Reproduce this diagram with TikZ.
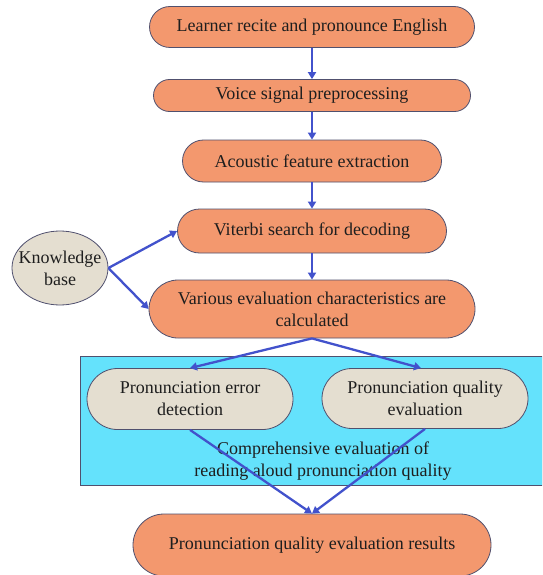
\documentclass[tikz,border=0pt]{standalone}
\usepackage{fontspec}
\setmainfont{Liberation Serif}
\usetikzlibrary{arrows.meta,shapes.geometric}
\definecolor{orfill}{RGB}{243,152,110}
\definecolor{bgfill}{RGB}{228,222,208}
\definecolor{cyfill}{RGB}{100,226,252}
\definecolor{arcol}{RGB}{66,82,204}
\definecolor{bord}{RGB}{80,80,110}
\definecolor{txt}{RGB}{30,30,30}
\tikzset{
  box/.style={draw=bord, line width=0.8pt, fill=orfill, text=txt, align=center, font=\fontsize{18}{22}\selectfont, inner sep=0pt},
  bbox/.style={draw=bord, line width=0.8pt, fill=bgfill, text=txt, align=center, font=\fontsize{18}{22}\selectfont, inner sep=0pt},
  arr/.style={draw=arcol, line width=2.3pt, -{Triangle[length=7pt,width=8pt]}},
}
\begin{document}
\begin{tikzpicture}[x=1pt,y=-1pt]
\useasboundingbox (0,0) rectangle (542,575);
\fill[white] (0,0) rectangle (542,575);
\begin{scope}
\clip (0,0) rectangle (542,575);
\node[draw=bord, line width=0.8pt, fill=cyfill, minimum width=462pt, minimum height=129pt, inner sep=0pt] (grp) at (311,420.5) {};
\node[box, minimum width=325pt, minimum height=41pt, rounded corners=20.5pt] (n1) at (312,27) {Learner recite and pronounce English};
\node[box, minimum width=317pt, minimum height=32pt, rounded corners=16pt] (n2) at (312,95.5) {Voice signal preprocessing};
\node[box, minimum width=259pt, minimum height=42pt, rounded corners=21pt] (n3) at (312,161) {Acoustic feature extraction};
\node[box, minimum width=269pt, minimum height=44pt, rounded corners=22pt] (n4) at (312,231) {Viterbi search for decoding};
\node[box, minimum width=326pt, minimum height=58pt, rounded corners=29pt] (n5) at (312,309) {Various evaluation characteristics are\\calculated};
\node[draw=bord, line width=0.8pt, fill=bgfill, ellipse, minimum width=96pt, minimum height=74pt, inner sep=0pt,
  label={[text=txt, align=center, font=\fontsize{18}{22}\selectfont, inner sep=0pt]center:Knowledge\\base}] (kb) at (60,268) {};
\node[bbox, minimum width=206pt, minimum height=61pt, rounded corners=30.5pt] (n6) at (190,399) {Pronunciation error\\detection};
\node[bbox, minimum width=206pt, minimum height=60pt, rounded corners=30pt] (n7) at (425,398.5) {Pronunciation quality\\evaluation};
\node[text=txt, align=center, font=\fontsize{18}{21.5}\selectfont, inner sep=0pt] (ct) at (323,461) {Comprehensive evaluation of\\reading aloud pronunciation quality};
\node[box, minimum width=358pt, minimum height=62pt, rounded corners=31pt] (n8) at (312,545) {Pronunciation quality evaluation results};
\draw[arr] (n1.south) -- (n2.north);
\draw[arr] (n2.south) -- (n3.north);
\draw[arr] (n3.south) -- (n4.north);
\draw[arr] (n4.south) -- (n5.north);
\draw[arr] (kb.east) -- (n4.west);
\draw[arr] (kb.east) -- (n5.west);
\draw[arr] (n5.south) -- (n6.north);
\draw[arr] (n5.south) -- ([xshift=-4pt]n7.north);
\draw[arr] (n6.south) -- (n8.north);
\draw[arr] (n7.south) -- (n8.north);
\end{scope}
\end{tikzpicture}
\end{document}
